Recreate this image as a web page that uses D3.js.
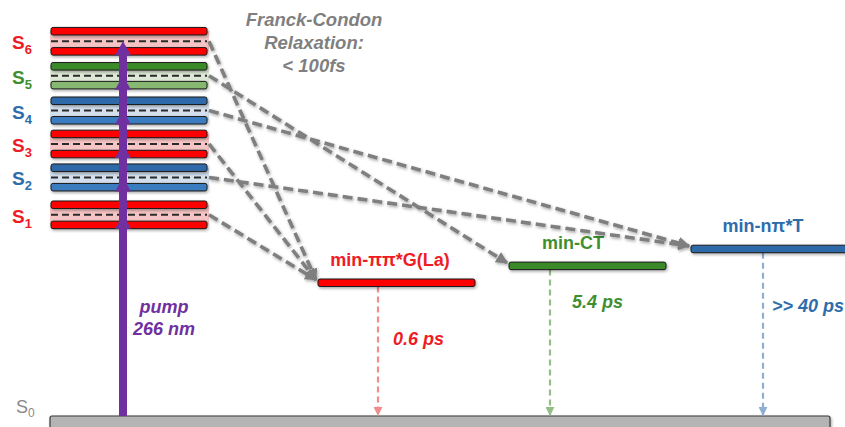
<!DOCTYPE html>
<html><head><meta charset="utf-8">
<script src="https://cdn.jsdelivr.net/npm/d3@7"></script>
<style>html,body{margin:0;padding:0;background:#fff;overflow:hidden}</style>
</head><body>
<svg id="chart" width="845" height="427"></svg>
<script>
// Franck-Condon excited states (energies in eV above S0)
const states      = ["S1", "S2", "S3", "S4", "S5", "S6"];
const stateKind   = ["pp", "np", "pp", "np", "ct", "pp"];
const stateUpper  = [3.25, 3.82, 4.34, 4.85, 5.38, 5.92];
const stateLower  = [2.94, 3.52, 4.03, 4.55, 5.09, 5.61];

// Relaxed minima reached after Franck-Condon relaxation
const minima      = ["min-ππ*G(La)", "min-CT", "min-nπ*T"];
const minKind     = ["pp", "ct", "np"];
const minEnergy   = [2.05, 2.31, 2.57];
const lifetimes   = ["0.6 ps", "5.4 ps", ">> 40 ps"];

// index into minima for each state
const relaxTarget = [0, 2, 0, 2, 1, 0];

const pumpLabel = ["pump", "266 nm"];
const fcLabel   = ["Franck-Condon", "Relaxation:", "< 100fs"];

const W = 845, H = 427;
const svg = d3.select("#chart");
const y = d3.scaleLinear().domain([0, 6]).range([416, 26]);

const palette = {
  pp: { top: "#ff0000", bottom: "#ff0000", band: "#f6c4c4", text: "#ee1c25", decay: "#f08c8c" },
  np: { top: "#2f6aa9", bottom: "#3b7cc0", band: "#d3dfec", text: "#2e6dab", decay: "#8eaed4" },
  ct: { top: "#3b8a2c", bottom: "#86b872", band: "#dde9d6", text: "#3f8f30", decay: "#92bf85" }
};
const FONT = "'Liberation Sans', Arial, sans-serif";

const defs = svg.append("defs");
const shadow = defs.append("filter").attr("id", "shadow")
  .attr("x", "-20%").attr("y", "-50%").attr("width", "140%").attr("height", "200%");
shadow.append("feDropShadow").attr("dx", 1).attr("dy", 1.5)
  .attr("stdDeviation", 1.4).attr("flood-color", "#000").attr("flood-opacity", 0.35);

function marker(id, color, size) {
  defs.append("marker").attr("id", id)
    .attr("viewBox", "0 0 10 10").attr("refX", 9).attr("refY", 5)
    .attr("markerUnits", "userSpaceOnUse")
    .attr("markerWidth", size).attr("markerHeight", size)
    .attr("orient", "auto")
    .append("path").attr("d", "M0,0 L10,5 L0,10 Z").attr("fill", color);
}
marker("head-gray", "#7f7f7f", 12);
["pp", "np", "ct"].forEach(k => marker("head-" + k, palette[k].decay, 9));

// Layout
const fcX0 = 51, fcX1 = 207;
const minX = [[318, 475], [509, 666], [691, 852]];
const decayX = [378, 550, 763];
const barH = 7.5;
const mid = i => (stateUpper[i] + stateLower[i]) / 2;

// ground state
svg.append("rect").attr("x", 50).attr("y", y(0)).attr("width", 780).attr("height", 24)
  .attr("rx", 2).attr("fill", "#b4b4b4").attr("stroke", "#3a3a3a").attr("stroke-width", 1.2)
  .attr("filter", "url(#shadow)");
svg.append("text").attr("x", 16).attr("y", 413)
  .attr("font-family", FONT).attr("font-size", 18).attr("fill", "#8a8a8a")
  .text("S").append("tspan").attr("font-size", 12).attr("dy", 4).text("0");

// state bands
const st = svg.append("g");
states.forEach((s, i) => {
  const c = palette[stateKind[i]];
  st.append("rect").attr("x", fcX0 - 1).attr("width", fcX1 - fcX0 + 3)
    .attr("y", y(stateUpper[i])).attr("height", y(stateLower[i]) - y(stateUpper[i]))
    .attr("fill", c.band);
  st.append("line").attr("x1", fcX0).attr("x2", fcX1)
    .attr("y1", y(mid(i))).attr("y2", y(mid(i)))
    .attr("stroke", "#2a2a2a").attr("stroke-width", 2).attr("stroke-dasharray", "7,4");
  [[stateUpper[i], c.top], [stateLower[i], c.bottom]].forEach(([e, col]) => {
    st.append("rect").attr("x", fcX0).attr("width", fcX1 - fcX0)
      .attr("y", y(e) - barH / 2).attr("height", barH).attr("rx", 2)
      .attr("fill", col).attr("stroke", "#1a1a1a").attr("stroke-width", 1)
      .attr("filter", "url(#shadow)");
  });
  const lab = st.append("text").attr("x", 12).attr("y", y(mid(i)) + 8)
    .attr("font-family", FONT).attr("font-weight", "bold").attr("font-size", 19)
    .attr("fill", c.text).text("S");
  lab.append("tspan").attr("font-size", 13).attr("dy", 5).text(s.slice(1));
});

// pump arrow
const pumpX = 123;
const pg = svg.append("g");
pg.append("rect").attr("x", pumpX - 4).attr("width", 8)
  .attr("y", y(mid(5)) + 8).attr("height", y(0) - y(mid(5)) - 8)
  .attr("fill", "#7030a0");
states.forEach((s, i) => {
  const ty = y(mid(i));
  pg.append("path")
    .attr("d", `M${pumpX},${ty} L${pumpX + 8},${ty + 14} L${pumpX - 8},${ty + 14} Z`)
    .attr("fill", "#7030a0");
});
pumpLabel.forEach((t, k) => {
  svg.append("text").attr("x", 164).attr("y", 313 + k * 22).attr("text-anchor", "middle")
    .attr("font-family", FONT).attr("font-weight", "bold").attr("font-style", "italic")
    .attr("font-size", 18).attr("fill", "#7030a0").text(t);
});

// relaxed minima, decay channels and labels
const labelX = [390, 573, 763];
const lifeX = [393, 572, 772];
const lifeY = [345, 308, 312];
minima.forEach((m, j) => {
  const c = palette[minKind[j]];
  const yy = y(minEnergy[j]);
  svg.append("line").attr("x1", decayX[j]).attr("x2", decayX[j])
    .attr("y1", yy + barH / 2).attr("y2", y(0) - 1)
    .attr("stroke", c.decay).attr("stroke-width", 2.2).attr("stroke-dasharray", "6,4")
    .attr("marker-end", "url(#head-" + minKind[j] + ")");
  svg.append("rect").attr("x", minX[j][0]).attr("width", minX[j][1] - minX[j][0])
    .attr("y", yy - barH / 2).attr("height", barH).attr("rx", 2)
    .attr("fill", c.top).attr("stroke", "#1a1a1a").attr("stroke-width", 1)
    .attr("filter", "url(#shadow)");
  svg.append("text").attr("x", labelX[j]).attr("y", yy - 17).attr("text-anchor", "middle")
    .attr("font-family", FONT).attr("font-weight", "bold").attr("font-size", 18)
    .attr("fill", c.text).text(m);
  svg.append("text").attr("x", lifeX[j]).attr("y", lifeY[j])
    .attr("font-family", FONT).attr("font-weight", "bold").attr("font-style", "italic")
    .attr("font-size", 18).attr("fill", c.text).text(lifetimes[j]);
});

// Franck-Condon relaxation paths
const rg = svg.append("g").attr("filter", "url(#shadow)");
states.forEach((s, i) => {
  const j = relaxTarget[i];
  rg.append("line")
    .attr("x1", fcX1 + 2).attr("y1", y(mid(i)))
    .attr("x2", minX[j][0] - 2).attr("y2", y(minEnergy[j]) - 3)
    .attr("stroke", "#7f7f7f").attr("stroke-width", 3.6).attr("stroke-dasharray", "10,5")
    .attr("marker-end", "url(#head-gray)");
});

fcLabel.forEach((t, k) => {
  svg.append("text").attr("x", 314).attr("y", 26 + k * 23).attr("text-anchor", "middle")
    .attr("font-family", FONT).attr("font-weight", "bold").attr("font-style", "italic")
    .attr("font-size", 18.5).attr("fill", "#7f7f7f").text(t);
});
</script>
</body></html>
